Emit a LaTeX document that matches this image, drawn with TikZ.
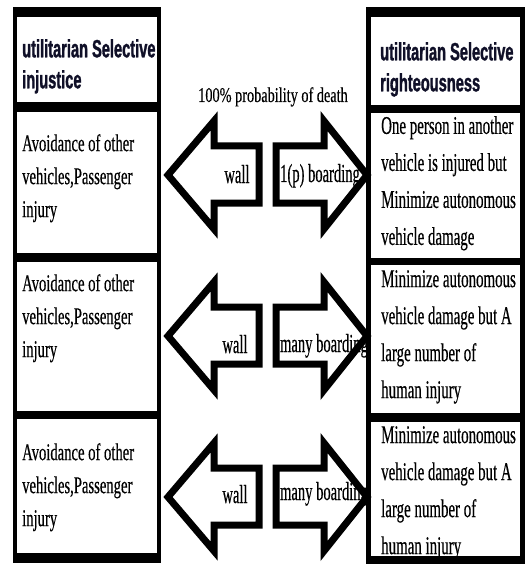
\documentclass[tikz,border=0pt]{standalone}
\usepackage{fontspec}
\setmainfont{Liberation Serif}
\newfontfamily\bodyfontL[FakeStretch=0.61,FakeBold=0.4]{Liberation Serif}
\newfontfamily\bodyfontR[FakeStretch=0.585,FakeBold=0.4]{Liberation Serif}
\newfontfamily\labfont[FakeStretch=0.56,FakeBold=0.4]{Liberation Serif}
\newfontfamily\titfont[FakeStretch=0.68,FakeBold=0.3]{Liberation Serif}
\newfontfamily\hdrfont[FakeStretch=0.585,FakeBold=1.2]{Liberation Sans}
\newcommand\fbodyL{\bodyfontL\fontsize{24}{33}\selectfont}
\newcommand\fbodyR{\bodyfontR\fontsize{25.5}{37}\selectfont}
\newcommand\flab{\labfont\fontsize{26}{28}\selectfont}
\newcommand\ftit{\titfont\fontsize{21}{24}\selectfont}
\newcommand\fhdr{\hdrfont\bfseries\fontsize{25}{31}\selectfont}
\definecolor{hdrink}{HTML}{101028}
\tikzset{
  colbg/.style={fill=black, inner sep=0pt, anchor=north west},
  cellw/.style={fill=white, inner sep=0pt, anchor=north west},
  bodytxtL/.style={font=\fbodyL, align=left, inner sep=0pt, anchor=north west},
  bodytxtR/.style={font=\fbodyR, align=left, inner sep=0pt, anchor=north west},
  hdrtxt/.style={font=\fhdr, text=hdrink, align=left, inner sep=0pt, anchor=north west},
  labtxt/.style={font=\flab, inner sep=0pt, anchor=base},
  arrowline/.style={draw=black, line width=7pt, line join=miter, fill=white},
}
\begin{document}
\begin{tikzpicture}[x=1pt,y=-1pt]
\useasboundingbox[fill=white] (0,0) rectangle (527,564);
% columns
\node[colbg, minimum width=148pt, minimum height=556pt] (colL) at (13,7) {};
\node[colbg, minimum width=159pt, minimum height=557pt] (colR) at (366,7) {};
% left cells
\node[cellw, minimum width=140pt, minimum height=85pt] (L0) at (17,17) {};
\node[cellw, minimum width=140pt, minimum height=141pt] (L1) at (17,112) {};
\node[cellw, minimum width=140pt, minimum height=149pt] (L2) at (17,262) {};
\node[cellw, minimum width=140pt, minimum height=134pt] (L3) at (17,419) {};
% right cells
\node[cellw, minimum width=149pt, minimum height=88pt] (R0) at (371,17) {};
\node[cellw, minimum width=149pt, minimum height=145pt] (R1) at (371,113) {};
\node[cellw, minimum width=149pt, minimum height=148pt] (R2) at (371,265) {};
\node[cellw, minimum width=149pt, minimum height=134pt] (R3) at (371,422) {};
% headers
\node[hdrtxt] (hL) at (22,39) {utilitarian Selective\\injustice};
\node[hdrtxt] (hR) at (380,42) {utilitarian Selective\\righteousness};
% bodies
\node[bodytxtL] (tL1) at (22,134) {Avoidance of other\\vehicles,Passenger\\injury};
\node[bodytxtL] (tL2) at (22,274) {Avoidance of other\\vehicles,Passenger\\injury};
\node[bodytxtL] (tL3) at (22,443) {Avoidance of other\\vehicles,Passenger\\injury};
\begin{scope}
\clip (371,17) rectangle (520,556);
\node[bodytxtR] (tR1) at (381,116) {One person in another\\vehicle is injured but\\Minimize autonomous\\vehicle damage};
\node[bodytxtR] (tR2) at (381,270) {Minimize autonomous\\vehicle damage but A\\large number of\\human injury};
\node[bodytxtR] (tR3) at (381,426) {Minimize autonomous\\vehicle damage but A\\large number of\\human injury};
\end{scope}
% title
\node[font=\ftit, inner sep=0pt, anchor=base] (title) at (273,102) {100\% probability of death};
% arrows
\foreach \m in {175,336,497}{
  \draw[arrowline] (259,\m-29) -- (214,\m-29) -- (214,\m-54) -- (168,\m) -- (214,\m+54) -- (214,\m+28) -- (259,\m+28) -- cycle;
  \draw[arrowline] (276,\m-29) -- (324,\m-29) -- (324,\m-54) -- (367,\m) -- (324,\m+54) -- (324,\m+28) -- (276,\m+28) -- cycle;
}
\node[labtxt] (w1) at (237,183) {wall};
\node[labtxt] (b1) at (320,182) {1(p) boarding};
\node[labtxt] (w2) at (235,353) {wall};
\node[labtxt] (b2) at (324,352) {many boarding};
\node[labtxt] (w3) at (235,503) {wall};
\node[labtxt] (b3) at (324,500) {many boarding};
\end{tikzpicture}
\end{document}
